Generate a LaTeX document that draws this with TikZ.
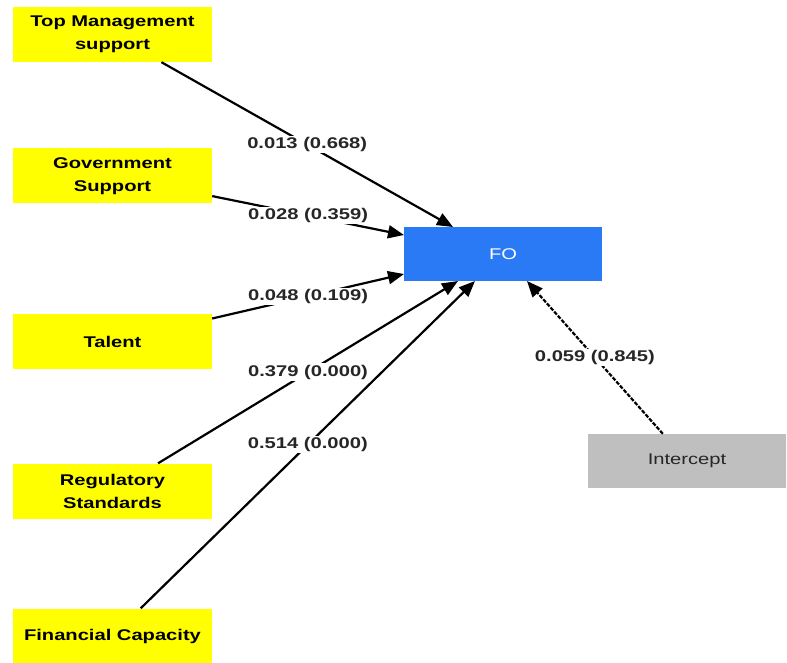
\documentclass[tikz,border=0pt]{standalone}
\usepackage{fontspec}
\setmainfont{Liberation Sans}[FakeStretch=1.3]
\usetikzlibrary{arrows.meta}
\definecolor{boxyellow}{RGB}{255,255,0}
\definecolor{foblue}{RGB}{43,122,245}
\definecolor{icgray}{RGB}{191,191,191}
\tikzset{
  lvbox/.style={rectangle, fill=boxyellow, minimum width=199pt, minimum height=55pt, inner sep=0pt, align=center, font=\fontsize{15.5}{23}\selectfont\bfseries, text=black},
  fobox/.style={rectangle, fill=foblue, minimum width=198pt, minimum height=54pt, inner sep=0pt, font=\fontsize{15.5}{23}\selectfont, text=white},
  icbox/.style={rectangle, fill=icgray, minimum width=198pt, minimum height=54pt, inner sep=0pt, font=\fontsize{15.5}{23}\selectfont, text=black!85},
  arr/.style={line width=2.2pt, -{Triangle[length=16pt,width=13pt]}},
  lab/.style={fill=white, inner sep=1.5pt, font=\fontsize{15.5}{18}\selectfont\bfseries, text=black!85}
}
\begin{document}
\begin{tikzpicture}[x=1pt,y=-1pt]
\useasboundingbox (0,0) rectangle (787,663);
\node[lvbox] (tm) at (112.5,34.5) {Top Management\\support};
\node[lvbox] (gs) at (112.5,176) {Government\\Support};
\node[lvbox] (ta) at (112.5,341.5) {Talent};
\node[lvbox] (rs) at (112.5,491) {Regulatory\\Standards};
\node[lvbox] (fc) at (112.5,636) {Financial Capacity};
\node[fobox] (fo) at (503,254) {FO};
\node[icbox] (ic) at (687,461) {Intercept};
\coordinate (fotm) at (453,227);
\coordinate (fogs) at (404,235);
\coordinate (fota) at (404,274);
\coordinate (fors) at (458,281);
\coordinate (fofc) at (475,281);
\coordinate (foic) at (527,281);
\draw[arr] (tm) -- (fotm) node[lab,midway] {0.013 (0.668)};
\draw[arr] (gs) -- (fogs) node[lab,midway] {0.028 (0.359)};
\draw[arr] (ta) -- (fota) node[lab,midway] {0.048 (0.109)};
\draw[arr] (rs) -- (fors) node[lab,midway] {0.379 (0.000)};
\draw[arr] (fc) -- (fofc) node[lab,midway] {0.514 (0.000)};
\draw[arr, dash pattern=on 4pt off 1.5pt] (ic) -- (foic) node[lab,midway] {0.059 (0.845)};
\end{tikzpicture}
\end{document}
